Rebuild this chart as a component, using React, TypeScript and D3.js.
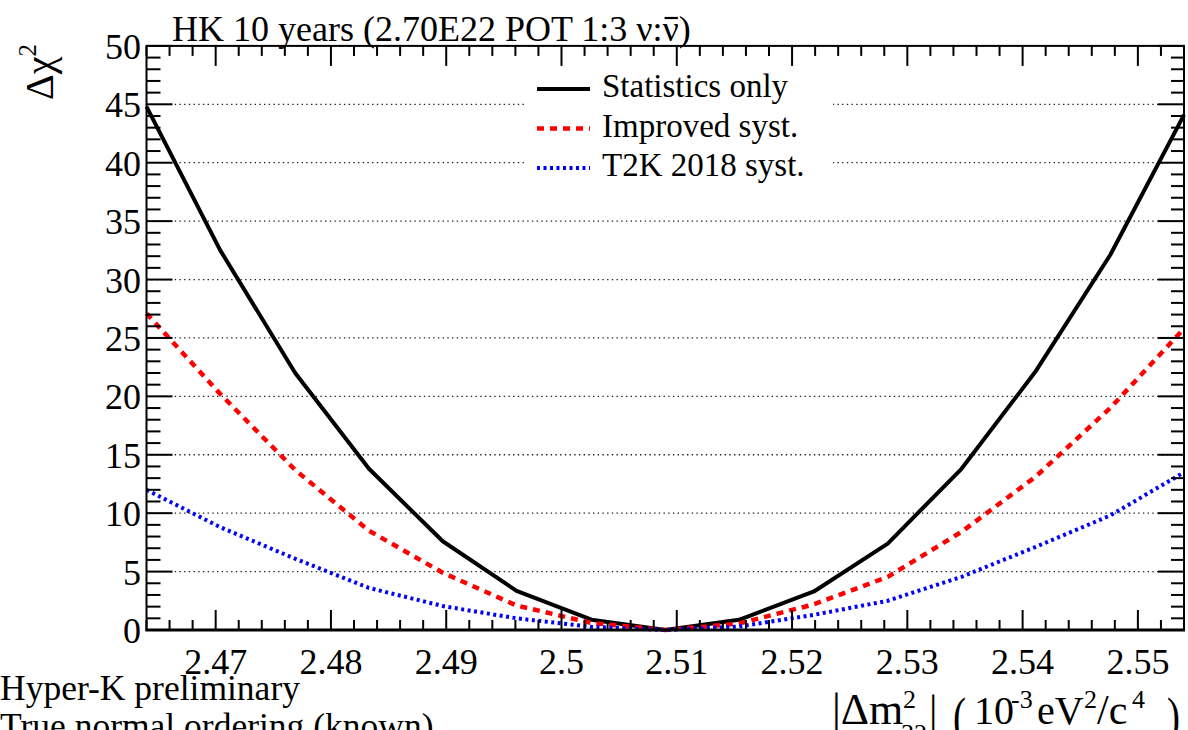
import React, { useLayoutEffect, useRef, useState } from "react";
import * as d3 from "d3";

// ---- data ----
const dm2 = [2.464, 2.4704, 2.4769, 2.4833, 2.4897, 2.4961, 2.5026, 2.509, 2.5154, 2.5219, 2.5283, 2.5347, 2.5411, 2.5476, 2.554];
const statOnly = [44.8, 32.5, 22.0, 13.8, 7.6, 3.35, 0.88, 0.0, 0.87, 3.3, 7.4, 13.8, 22.1, 32.1, 44.1];
const improvedSyst = [27.1, 20.2, 13.7, 8.5, 4.9, 2.1, 0.6, 0.0, 0.55, 2.2, 4.55, 8.4, 13.1, 19.0, 25.8];
const t2kSyst = [12.0, 8.8, 6.1, 3.6, 2.05, 1.0, 0.27, 0.0, 0.3, 1.3, 2.5, 4.55, 7.1, 9.8, 13.5];

const xDomain = [2.464, 2.554];
const yDomain = [0, 50];
const xTicks = [2.47, 2.48, 2.49, 2.5, 2.51, 2.52, 2.53, 2.54, 2.55];
const xTickLabels = ["2.47", "2.48", "2.49", "2.5", "2.51", "2.52", "2.53", "2.54", "2.55"];
const yTicks = [0, 5, 10, 15, 20, 25, 30, 35, 40, 45, 50];
const yTickLabels = ["0", "5", "10", "15", "20", "25", "30", "35", "40", "45", "50"];

const seriesNames = ["Statistics only", "Improved syst.", "T2K 2018 syst."];
const seriesValues = [statOnly, improvedSyst, t2kSyst];
const seriesColors = ["#000000", "#ff0000", "#0000ff"];
const seriesDash = [null, "7,6", "3,3.5"];
const seriesWidth = [4, 4.5, 4];

const titleText = "HK 10 years (2.70E22 POT 1:3 ν:ν)";

const W = 1188;
const H = 730;
const FONT = "'Liberation Serif', 'Times New Roman', serif";

export default function App() {
  const left = 146.5, right = 1184, top = 45.9, bottom = 630;
  const x = d3.scaleLinear().domain(xDomain).range([left, right]);
  const y = d3.scaleLinear().domain(yDomain).range([bottom, top]);

  const xMinor = d3.range(2.464, 2.5541, 0.002).filter((v) => !xTicks.some((t) => Math.abs(t - v) < 1e-6));
  const yMinor = d3.range(0, 50.01, 1).filter((v) => v % 5 !== 0);

  const line = d3
    .line<number>()
    .x((_, i) => x(dm2[i]))
    .y((d) => y(d));

  const titleRef = useRef<SVGTextElement>(null);
  const [bar, setBar] = useState<{ x1: number; x2: number } | null>(null);
  useLayoutEffect(() => {
    const el = titleRef.current;
    if (!el) return;
    try {
      const r = el.getExtentOfChar(titleText.length - 2);
      setBar({ x1: r.x + 2, x2: r.x + r.width - 1 });
    } catch (e) {
      /* ignore */
    }
  }, []);

  const legX0 = 537, legX1 = 590, legTextX = 602;
  const legY = [89, 128.5, 168];

  const xtY = 724;
  const supY = 708;
  const subY = 742;

  return (
    <svg width={W} height={H} style={{ position: "absolute", left: 0, top: 0, background: "#fff" }} fontFamily={FONT}>
      <rect x={0} y={0} width={W} height={H} fill="#fff" />
      {/* grid */}
      {yTicks.slice(1, -1).map((t) => (
        <line key={"g" + t} x1={left} x2={right} y1={y(t)} y2={y(t)} stroke="#222" strokeWidth={1.3} strokeDasharray="1.4,3.3" />
      ))}
      {/* legend box */}
      <rect x={525} y={62} width={308} height={128} fill="#fff" />
      {seriesNames.map((n, i) => (
        <g key={n}>
          <line x1={legX0} x2={legX1} y1={legY[i]} y2={legY[i]} stroke={seriesColors[i]} strokeWidth={seriesWidth[i]} strokeDasharray={seriesDash[i] || undefined} />
          <text x={legTextX} y={legY[i] + 8} fontSize={33} fill="#000">{n}</text>
        </g>
      ))}
      {/* curves */}
      {seriesValues.map((vals, i) => (
        <path key={"c" + i} d={line(vals) || ""} fill="none" stroke={seriesColors[i]} strokeWidth={seriesWidth[i]} strokeDasharray={seriesDash[i] || undefined} strokeLinejoin="round" />
      ))}
      {/* ticks */}
      <g stroke="#000" strokeWidth={2}>
        {yTicks.map((t) => (
          <g key={"yt" + t}>
            <line x1={left} x2={left + 26} y1={y(t)} y2={y(t)} />
            <line x1={right} x2={right - 26} y1={y(t)} y2={y(t)} />
          </g>
        ))}
        {yMinor.map((t) => (
          <g key={"ym" + t}>
            <line x1={left} x2={left + 14} y1={y(t)} y2={y(t)} />
            <line x1={right} x2={right - 13} y1={y(t)} y2={y(t)} />
          </g>
        ))}
        {xTicks.map((t) => (
          <g key={"xt" + t}>
            <line x1={x(t)} x2={x(t)} y1={bottom} y2={bottom - 20} />
            <line x1={x(t)} x2={x(t)} y1={top} y2={top + 20} />
          </g>
        ))}
        {xMinor.map((t) => (
          <g key={"xm" + t}>
            <line x1={x(t)} x2={x(t)} y1={bottom} y2={bottom - 10} />
            <line x1={x(t)} x2={x(t)} y1={top} y2={top + 10} />
          </g>
        ))}
      </g>
      {/* frame */}
      <rect x={left} y={top} width={right - left} height={bottom - top} fill="none" stroke="#000" strokeWidth={2} />
      <line x1={left - 1} x2={right + 1} y1={bottom} y2={bottom} stroke="#000" strokeWidth={3} />
      {/* tick labels */}
      {yTicks.map((t, i) => (
        <text key={"yl" + t} x={141} y={y(t) + 13} fontSize={36} textAnchor="end" fill="#000">{yTickLabels[i]}</text>
      ))}
      {xTicks.map((t, i) => (
        <text key={"xl" + t} x={x(t)} y={674} fontSize={36} textAnchor="middle" fill="#000">{xTickLabels[i]}</text>
      ))}
      {/* title */}
      <text ref={titleRef} x={172} y={41} fontSize={36} fill="#000">{titleText}</text>
      {bar && <line x1={bar.x1} x2={bar.x2} y1={18} y2={18} stroke="#000" strokeWidth={2.2} />}
      {/* y axis title */}
      <text transform="translate(53,44) rotate(-90)" textAnchor="end" fontSize={40} fill="#000">
        Δχ<tspan fontSize={25} dy={-17}>2</tspan>
      </text>
      {/* x axis title */}
      <g fill="#000">
        <text x={832} y={xtY} fontSize={44}>|Δm</text>
        <text x={903} y={supY} fontSize={26}>2</text>
        <text x={901} y={subY} fontSize={26}>32</text>
        <text x={929} y={xtY} fontSize={42}>|</text>
        <text x={953} y={xtY + 10} fontSize={52} transform={`translate(953,${xtY + 10}) scale(0.75,1) translate(-953,${-(xtY + 10)})`}>(</text>
        <text x={974} y={xtY} fontSize={40}>10</text>
        <text x={1011} y={supY} fontSize={26}>-3</text>
        <text x={1037} y={xtY} fontSize={40}>eV</text>
        <text x={1084} y={supY} fontSize={26}>2</text>
        <text x={1097} y={xtY} fontSize={42}>/c</text>
        <text x={1132} y={supY} fontSize={26}>4</text>
        <text x={1167} y={xtY + 10} fontSize={52} transform={`translate(1167,${xtY + 10}) scale(0.75,1) translate(-1167,${-(xtY + 10)})`}>)</text>
      </g>
      {/* bottom-left notes */}
      <text x={0} y={700} fontSize={35.5} fill="#000">Hyper-K preliminary</text>
      <text x={0} y={738} fontSize={35.5} fill="#000">True normal ordering (known)</text>
    </svg>
  );
}
